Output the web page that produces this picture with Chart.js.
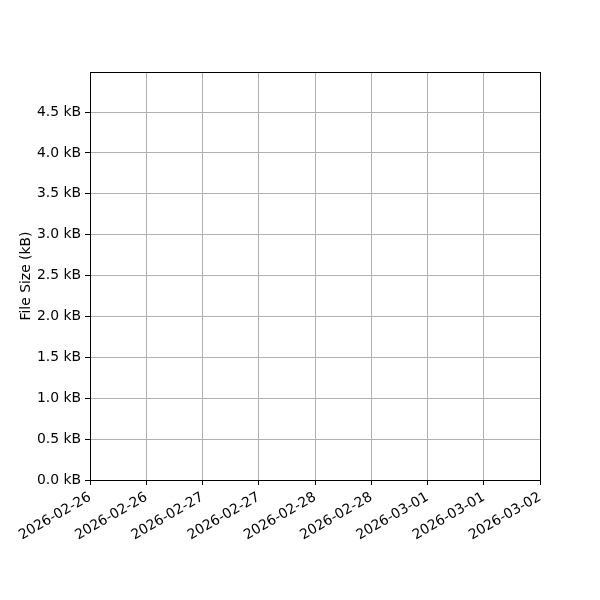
<!DOCTYPE html>
<html>
<head>
<meta charset="utf-8">
<script src="https://cdn.jsdelivr.net/npm/chart.js@4/dist/chart.umd.min.js"></script>
<style>
  html, body { margin: 0; padding: 0; background: #fff; }
  #wrap { width: 600px; height: 600px; }
</style>
</head>
<body>
<div id="wrap"><canvas id="sizeChart" width="600" height="600"></canvas></div>
<script>
// tick labels along the time axis (every 12 hours)
const dateLabels = ['2026-02-26', '2026-02-26', '2026-02-27', '2026-02-27', '2026-02-28',
                    '2026-02-28', '2026-03-01', '2026-03-01', '2026-03-02'];
// no file sizes recorded
const fileSizes = [];
const yMax = 4.99;

// draw full box around the plot area
const frame = {
    id: 'frame',
    afterDraw(chart) {
        const a = chart.chartArea;
        const ctx = chart.ctx;
        ctx.save();
        ctx.strokeStyle = '#000';
        ctx.lineWidth = 1;
        ctx.strokeRect(Math.round(a.left) + 0.5, Math.round(a.top) + 0.5,
                       Math.round(a.right - a.left), Math.round(a.bottom - a.top));
        ctx.restore();
    }
};

Chart.defaults.font.family = '"DejaVu Sans", sans-serif';
Chart.defaults.color = '#000';

const ctx = document.getElementById('sizeChart').getContext('2d');
new Chart(ctx, {
    type: 'line',
    data: {
        datasets: [{
            label: 'File Size',
            data: fileSizes,
            borderColor: '#1f77b4'
        }]
    },
    options: {
        responsive: false,
        animation: false,
        layout: { padding: { left: 18, right: 60, top: 72, bottom: 0 } },
        plugins: { legend: { display: false }, tooltip: { enabled: false } },
        scales: {
            x: {
                type: 'linear',
                min: 0,
                max: dateLabels.length - 1,
                afterFit(scale) { scale.height = 120; },
                grid: { color: '#b0b0b0', tickColor: '#000', tickLength: 5 },
                border: { display: false },
                ticks: {
                    stepSize: 1,
                    minRotation: 30,
                    maxRotation: 30,
                    autoSkip: false,
                    padding: 4,
                    font: { size: 13.9 },
                    callback: v => dateLabels[v]
                }
            },
            y: {
                min: 0,
                max: yMax,
                afterFit(scale) { scale.width = 72; },
                grid: { color: '#b0b0b0', tickColor: '#000', tickLength: 5 },
                border: { display: false },
                title: { display: true, text: 'File Size (kB)', font: { size: 13.9 }, padding: { top: 0, bottom: 0 } },
                ticks: {
                    stepSize: 0.5,
                    includeBounds: false,
                    padding: 4,
                    font: { size: 13.9 },
                    callback: v => v.toFixed(1) + ' kB'
                }
            }
        }
    },
    plugins: [frame]
});
</script>
</body>
</html>
